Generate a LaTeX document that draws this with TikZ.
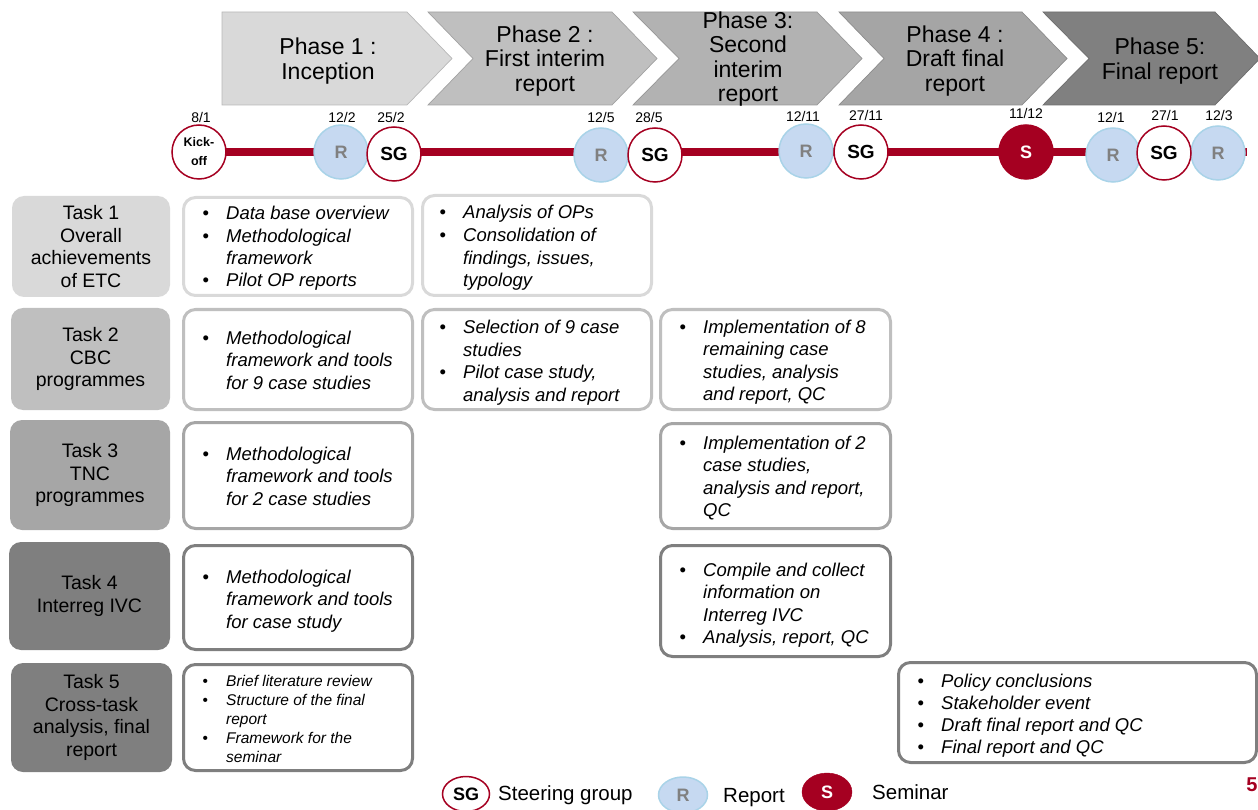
\documentclass[tikz,border=0pt]{standalone}
\usepackage{fontspec}
\setmainfont{Liberation Sans}
\usetikzlibrary{shapes.geometric,backgrounds}
\definecolor{pwcred}{HTML}{A50021}
\definecolor{rfill}{HTML}{C6D9F1}
\definecolor{rline}{HTML}{A9D3E8}
\definecolor{rtext}{HTML}{808080}
\definecolor{gA}{HTML}{D9D9D9}
\definecolor{gB}{HTML}{BFBFBF}
\definecolor{gC}{HTML}{A6A6A6}
\definecolor{gD}{HTML}{7F7F7F}
\definecolor{phA}{HTML}{D9D9D9}
\definecolor{phB}{HTML}{BFBFBF}
\definecolor{phC}{HTML}{B2B2B2}
\definecolor{phD}{HTML}{A5A5A5}
\definecolor{phE}{HTML}{808080}
\newcommand{\bu}{\makebox[24pt][l]{\upshape\hspace{0.5pt}•}}
\newcommand{\nb}{\hspace*{24pt}}
\newcommand{\blist}[3]{\parbox[t]{340pt}{\fontsize{#1}{#2}\selectfont\itshape\raggedright #3}}
\tikzset{
  phasebox/.style={fill=#1, draw=#1!85!black, line width=0.7pt, line join=miter},
  phasetext/.style={align=center, font=\fontsize{23}{24.2}\selectfont, inner sep=0},
  tasklabel/.style={rounded corners=12pt, align=center, font=\fontsize{19.5}{22.8}\selectfont, inner sep=0},
  cbox/.style={draw=#1, line width=3pt, rounded corners=12pt, fill=white, inner sep=0},
  ctext/.style={anchor=base west, inner sep=0},
  datelbl/.style={font=\fontsize{14}{16}\selectfont, inner sep=0},
  rmark/.style={circle, minimum size=54pt, inner sep=0, fill=rfill, draw=rline, line width=1.5pt, text=rtext, font=\bfseries\fontsize{18}{20}\selectfont},
  sgmark/.style={circle, minimum size=54pt, inner sep=0, fill=white, draw=pwcred, line width=1.5pt, font=\bfseries\fontsize{19}{20}\selectfont},
  smark/.style={circle, minimum size=54pt, inner sep=0, fill=pwcred, draw=pwcred, line width=1.5pt, text=white, font=\bfseries\fontsize{18}{20}\selectfont},
  legtext/.style={anchor=base west, inner sep=0, font=\fontsize{20.5}{22}\selectfont}
}
\begin{document}
\begin{tikzpicture}[x=1pt,y=-1pt]
\useasboundingbox (0,0) rectangle (1258,810);

% ---------- phases ----------
\fill[phasebox=phA] (222,12) -- (407,12) -- (452,58.5) -- (407,105) -- (222,105) -- cycle;
\fill[phasebox=phB] (428,12) -- (612,12) -- (657,58.5) -- (612,105) -- (428,105) -- (473,58.5) -- cycle;
\fill[phasebox=phC] (633,12) -- (817,12) -- (862,58.5) -- (817,105) -- (633,105) -- (679,58.5) -- cycle;
\fill[phasebox=phD] (839,12) -- (1022,12) -- (1067,58.5) -- (1022,105) -- (839,105) -- (884,58.5) -- cycle;
\fill[phasebox=phE] (1043,12) -- (1215,12) -- (1260,58.5) -- (1215,105) -- (1043,105) -- (1089,58.5) -- cycle;
\node[phasetext] (p1) at (328,61) {Phase 1 :\\Inception};
\node[phasetext] (p2) at (545,61) {Phase 2 :\\First interim\\report};
\node[phasetext] (p3) at (748,59) {Phase 3:\\Second\\interim\\report};
\node[phasetext] (p4) at (955,61) {Phase 4 :\\Draft final\\report};
\node[phasetext] (p5) at (1160,61) {Phase 5:\\Final report};

% ---------- timeline ----------
\coordinate (tend) at (1247,152);
\node[circle, minimum size=54pt, inner sep=0, fill=white, draw=pwcred, line width=1.5pt, align=center, font=\bfseries\fontsize{12.5}{19}\selectfont] (ko) at (199,152) {Kick-\\off};
\node[rmark] (r1) at (341,152) {R};
\node[rmark] (r2) at (601,155) {R};
\node[rmark] (r3) at (806,151) {R};
\node[rmark] (r4) at (1113,155) {R};
\node[rmark] (r5) at (1218,153) {R};
\node[sgmark] (sg1) at (394,154) {SG};
\node[sgmark] (sg2) at (655,155) {SG};
\node[sgmark] (sg3) at (861,152) {SG};
\node[sgmark] (sg4) at (1164,153) {SG};
\node[smark] (s1) at (1026,152) {S};
\begin{scope}[on background layer]
\draw[pwcred, line width=8pt] (ko.center) -- (tend);
\end{scope}
\node[datelbl] (d1) at (201,117) {8/1};
\node[datelbl] (d2) at (342,117) {12/2};
\node[datelbl] (d3) at (391,117) {25/2};
\node[datelbl] (d4) at (601,117) {12/5};
\node[datelbl] (d5) at (649,117) {28/5};
\node[datelbl] (d6) at (803,116) {12/11};
\node[datelbl] (d7) at (866,115) {27/11};
\node[datelbl] (d8) at (1026,113) {11/12};
\node[datelbl] (d9) at (1111,117) {12/1};
\node[datelbl] (d10) at (1165,115) {27/1};
\node[datelbl] (d11) at (1219,115) {12/3};

% ---------- task labels ----------
\node[tasklabel, fill=gA, minimum width=158pt, minimum height=101pt] (task1) at (91,246.5) {Task 1\\Overall\\achievements\\of ETC};
\node[tasklabel, fill=gB, minimum width=159pt, minimum height=102pt] (task2) at (90.5,359) {Task 2\\CBC\\programmes};
\node[tasklabel, fill=gC, minimum width=160pt, minimum height=110pt] (task3) at (90,475) {Task 3\\TNC\\programmes};
\node[tasklabel, fill=gD, minimum width=161pt, minimum height=108pt] (task4) at (89.5,596) {Task 4\\Interreg IVC};
\node[tasklabel, fill=gD, minimum width=161pt, minimum height=109pt] (task5) at (91.5,717.5) {Task 5\\Cross-task\\analysis, final\\report};

% ---------- content boxes ----------
\node[cbox=gA, minimum width=229pt, minimum height=98pt] (b11) at (298,246.5) {};
\node[cbox=gA, minimum width=229pt, minimum height=100pt] (b12) at (537,245.5) {};
\node[cbox=gB, minimum width=229pt, minimum height=100pt] (b21) at (298,359.5) {};
\node[cbox=gB, minimum width=229pt, minimum height=100pt] (b22) at (537,359.5) {};
\node[cbox=gB, minimum width=230pt, minimum height=100pt] (b23) at (775.5,359.5) {};
\node[cbox=gC, minimum width=229pt, minimum height=106pt] (b31) at (298,475.5) {};
\node[cbox=gC, minimum width=230pt, minimum height=105pt] (b33) at (775.5,476) {};
\node[cbox=gD, minimum width=229pt, minimum height=104pt] (b41) at (298,597.5) {};
\node[cbox=gD, minimum width=230pt, minimum height=111pt] (b43) at (775.5,601) {};
\node[cbox=gD, minimum width=229pt, minimum height=106pt] (b51) at (298,717.5) {};
\node[cbox=gD, minimum width=358pt, minimum height=100pt] (b55) at (1077.5,712.5) {};

\node[ctext] (t11) at (202,220) {\blist{18.5}{22.3}{\bu Data base overview\\ \bu Methodological\\ \nb framework\\ \bu Pilot OP reports}};
\node[ctext] (t12) at (439,219) {\blist{18.5}{22.6}{\bu Analysis of OPs\\ \bu Consolidation of\\ \nb findings, issues,\\ \nb typology}};
\node[ctext] (t21) at (202,344) {\blist{18.5}{22.5}{\bu Methodological\\ \nb framework and tools\\ \nb for 9 case studies}};
\node[ctext] (t22) at (439,334) {\blist{18.5}{22.5}{\bu Selection of 9 case\\ \nb studies\\ \bu Pilot case study,\\ \nb analysis and report}};
\node[ctext] (t23) at (679,333) {\blist{18.5}{22.5}{\bu Implementation of 8\\ \nb remaining case\\ \nb studies, analysis\\ \nb and report, QC}};
\node[ctext] (t31) at (202,460) {\blist{18.5}{22.5}{\bu Methodological\\ \nb framework and tools\\ \nb for 2 case studies}};
\node[ctext] (t33) at (679,449) {\blist{18.5}{22.5}{\bu Implementation of 2\\ \nb case studies,\\ \nb analysis and report,\\ \nb QC}};
\node[ctext] (t41) at (202,583) {\blist{18.5}{22.5}{\bu Methodological\\ \nb framework and tools\\ \nb for case study}};
\node[ctext] (t43) at (679,576) {\blist{18.5}{22.5}{\bu Compile and collect\\ \nb information on\\ \nb Interreg IVC\\ \bu Analysis, report, QC}};
\node[ctext] (t51) at (202,686) {\blist{15.5}{19.1}{\bu Brief literature review\\ \bu Structure of the final\\ \nb report\\ \bu Framework for the\\ \nb seminar}};
\node[ctext] (t55) at (917,687) {\blist{18.5}{22}{\bu Policy conclusions\\ \bu Stakeholder event\\ \bu Draft final report and QC\\ \bu Final report and QC}};

% ---------- legend ----------
\node[ellipse, minimum width=47pt, minimum height=35pt, inner sep=0, fill=white, draw=pwcred, line width=1.5pt, font=\bfseries\fontsize{18}{20}\selectfont] (lsg) at (466,794) {SG};
\node[legtext] (lsgt) at (498,800) {Steering group};
\node[ellipse, minimum width=49pt, minimum height=36pt, inner sep=0, fill=rfill, draw=rline, line width=1.5pt, text=rtext, font=\bfseries\fontsize{18}{20}\selectfont] (lr) at (683,795) {R};
\node[legtext] (lrt) at (723,802) {Report};
\node[ellipse, minimum width=50pt, minimum height=38pt, inner sep=0, fill=pwcred, draw=pwcred, text=white, font=\bfseries\fontsize{18}{20}\selectfont] (ls) at (827,792) {S};
\node[legtext] (lst) at (872,799) {Seminar};
\node[inner sep=0, text=pwcred, font=\bfseries\fontsize{20}{22}\selectfont] (pg) at (1252,785) {5};
\end{tikzpicture}
\end{document}
